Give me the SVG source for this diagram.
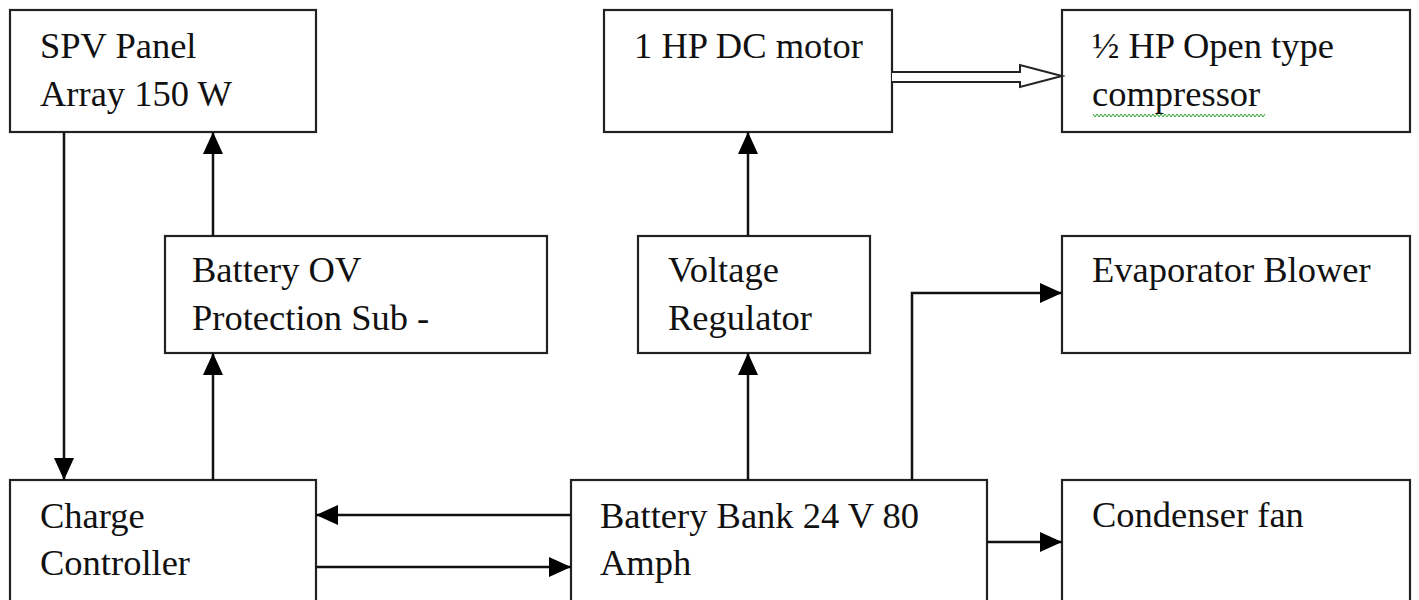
<svg xmlns="http://www.w3.org/2000/svg" width="1419" height="600" viewBox="0 0 1419 600">
<defs>
<style>
.box{fill:#fff;stroke:#222;stroke-width:2.2}
.t{font-family:"Liberation Serif","Times New Roman",serif;font-size:36.5px;fill:#111}
.c{fill:none;stroke:#111;stroke-width:2.5}
</style>
<marker id="ah" markerUnits="userSpaceOnUse" markerWidth="22" markerHeight="20" viewBox="0 0 22 20" refX="22" refY="10" orient="auto">
<path d="M0,0 L22,10 L0,20 Z" fill="#000"/>
</marker>
</defs>
<rect width="1419" height="600" fill="#fff"/>
<g id="spv"><rect class="box" x="10" y="10" width="306" height="122"/><text class="t" x="40" y="58">SPV Panel</text><text class="t" x="40" y="106">Array 150 W</text></g>
<g id="ovp"><rect class="box" x="165" y="236" width="382" height="117"/><text class="t" x="192" y="282">Battery OV</text><text class="t" x="192" y="330">Protection Sub -</text></g>
<g id="motor"><rect class="box" x="604" y="10" width="288" height="122"/><text class="t" x="634" y="58">1 HP DC motor</text></g>
<g id="compressor"><rect class="box" x="1062" y="10" width="348" height="122"/><text class="t" x="1092" y="58">½ HP Open type</text><text class="t" x="1092" y="106">compressor</text><path d="M1093,114 l2,3 l2,-3 l2,3 l2,-3 l2,3 l2,-3 l2,3 l2,-3 l2,3 l2,-3 l2,3 l2,-3 l2,3 l2,-3 l2,3 l2,-3 l2,3 l2,-3 l2,3 l2,-3 l2,3 l2,-3 l2,3 l2,-3 l2,3 l2,-3 l2,3 l2,-3 l2,3 l2,-3 l2,3 l2,-3 l2,3 l2,-3 l2,3 l2,-3 l2,3 l2,-3 l2,3 l2,-3 l2,3 l2,-3 l2,3 l2,-3 l2,3 l2,-3 l2,3 l2,-3 l2,3 l2,-3 l2,3 l2,-3 l2,3 l2,-3 l2,3 l2,-3 l2,3 l2,-3 l2,3 l2,-3 l2,3 l2,-3 l2,3 l2,-3 l2,3 l2,-3 l2,3 l2,-3 l2,3 l2,-3 l2,3 l2,-3 l2,3 l2,-3 l2,3 l2,-3 l2,3 l2,-3 l2,3 l2,-3 l2,3 l2,-3 l2,3 l2,-3 l2,3 l2,-3" fill="none" stroke="#3a3" stroke-width="1"/></g>
<g id="regulator"><rect class="box" x="638" y="236" width="232" height="117"/><text class="t" x="668" y="282">Voltage</text><text class="t" x="668" y="330">Regulator</text></g>
<g id="evaporator"><rect class="box" x="1062" y="236" width="348" height="117"/><text class="t" x="1092" y="282">Evaporator Blower</text></g>
<g id="charge"><rect class="box" x="10" y="480" width="306" height="130"/><text class="t" x="40" y="528">Charge</text><text class="t" x="40" y="575">Controller</text></g>
<g id="battery"><rect class="box" x="571" y="480" width="416" height="130"/><text class="t" x="600" y="528">Battery Bank 24 V 80</text><text class="t" x="600" y="575">Amph</text></g>
<g id="condenser"><rect class="box" x="1062" y="480" width="348" height="130"/><text class="t" x="1092" y="527">Condenser fan</text></g>
<g id="connectors">
<path class="c" d="M64,132 V480" marker-end="url(#ah)"/>
<path class="c" d="M213,480 V353" marker-end="url(#ah)"/>
<path class="c" d="M213,236 V132" marker-end="url(#ah)"/>
<path class="c" d="M748,480 V353" marker-end="url(#ah)"/>
<path class="c" d="M748,236 V132" marker-end="url(#ah)"/>
<path class="c" d="M912,480 V293 H1062" marker-end="url(#ah)"/>
<path class="c" d="M987,542 H1062" marker-end="url(#ah)"/>
<path class="c" d="M571,515 H316" marker-end="url(#ah)"/>
<path class="c" d="M316,567 H571" marker-end="url(#ah)"/>
<path d="M892,72 H1020 V65 L1062,76 L1020,87 V82 H892" fill="#fff" stroke="#222" stroke-width="2"/>
</g>
</svg>
